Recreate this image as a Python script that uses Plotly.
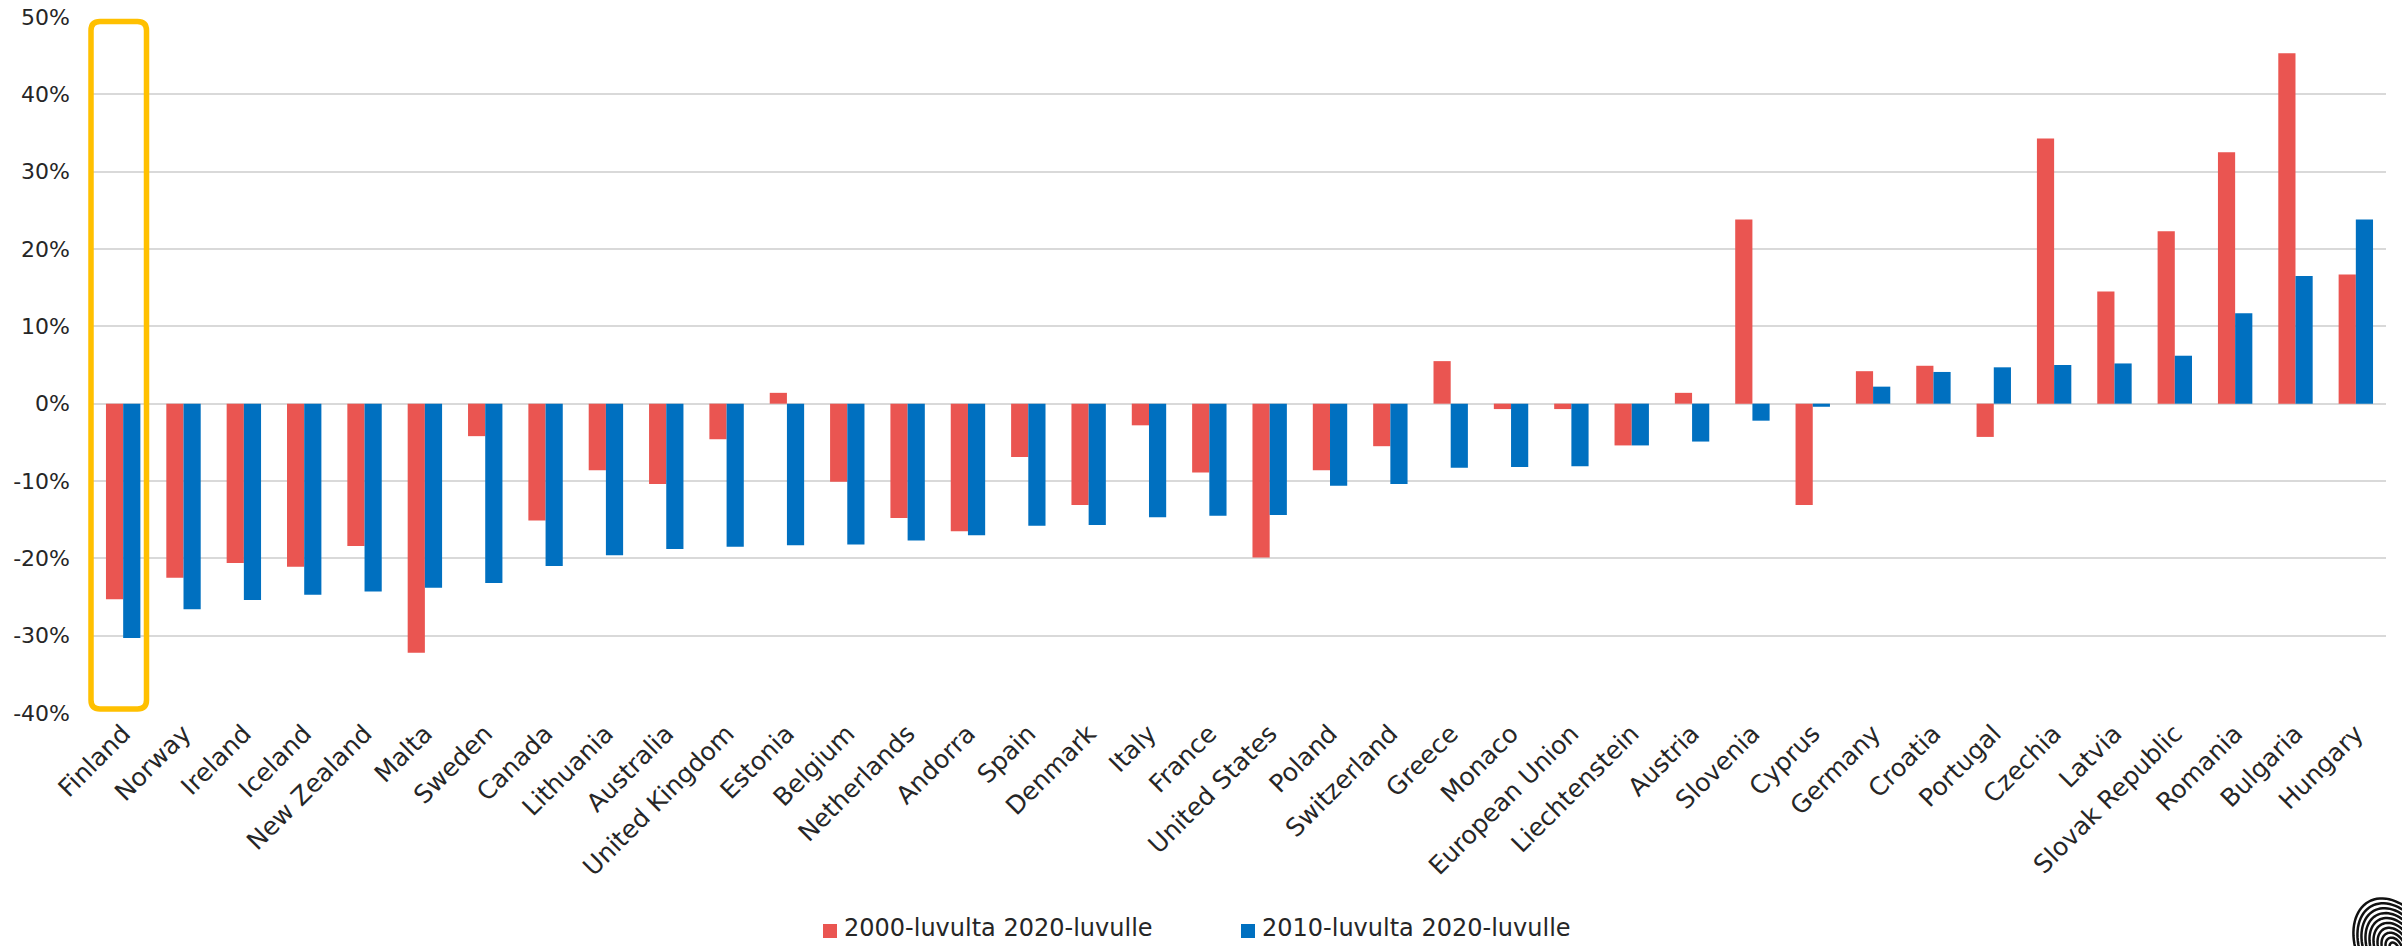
import numpy as np
import plotly.graph_objects as go

countries = ["Finland", "Norway", "Ireland", "Iceland", "New Zealand", "Malta", "Sweden", "Canada",
             "Lithuania", "Australia", "United Kingdom", "Estonia", "Belgium", "Netherlands", "Andorra",
             "Spain", "Denmark", "Italy", "France", "United States", "Poland", "Switzerland", "Greece",
             "Monaco", "European Union", "Liechtenstein", "Austria", "Slovenia", "Cyprus", "Germany",
             "Croatia", "Portugal", "Czechia", "Latvia", "Slovak Republic", "Romania", "Bulgaria", "Hungary"]

change_2000s = [-25.3, -22.5, -20.6, -21.1, -18.4, -32.2, -4.2, -15.1,
                -8.6, -10.4, -4.6, 1.4, -10.1, -14.8, -16.5,
                -6.9, -13.1, -2.8, -8.9, -19.9, -8.6, -5.5, 5.5,
                -0.7, -0.7, -5.4, 1.4, 23.8, -13.1, 4.2,
                4.9, -4.3, 34.3, 14.5, 22.3, 32.5, 45.3, 16.7]

change_2010s = [-30.3, -26.6, -25.4, -24.7, -24.3, -23.8, -23.2, -21.0,
                -19.6, -18.8, -18.5, -18.3, -18.2, -17.7, -17.0,
                -15.8, -15.7, -14.7, -14.5, -14.4, -10.6, -10.4, -8.3,
                -8.2, -8.1, -5.4, -4.9, -2.2, -0.4, 2.2,
                4.1, 4.7, 5.0, 5.2, 6.2, 11.7, 16.5, 23.8]

series_names = ["2000-luvulta 2020-luvulle", "2010-luvulta 2020-luvulle"]
y_ticks = [-40, -30, -20, -10, 0, 10, 20, 30, 40, 50]
y_tick_labels = [f"{v}%" for v in y_ticks]

RED = "#EA5551"
BLUE = "#0070C0"
FONT = "DejaVu Sans"
TXT = "#262626"

W, H = 2402, 946
L, R, T, B = 93, 2386, 17, 713  # plot area in pixels


def px_x(x):
    return (x - L) / (R - L)


def px_y(y):
    return (B - y) / (B - T)


fig = go.Figure()
fig.add_trace(go.Bar(x=countries, y=[v / 100 for v in change_2000s], name=series_names[0],
                     marker=dict(color=RED, line=dict(width=0))))
fig.add_trace(go.Bar(x=countries, y=[v / 100 for v in change_2010s], name=series_names[1],
                     marker=dict(color=BLUE, line=dict(width=0))))

# highlight box (rounded rectangle) around Finland
bx0, bx1, by0, by1, rad = 91, 146.5, 21.5, 709, 9


def rounded_rect(x0, x1, y0, y1, r):
    pts = []
    pts.append(f"M {px_x(x0 + r)},{px_y(y0)}")
    pts.append(f"L {px_x(x1 - r)},{px_y(y0)}")
    pts.append(f"Q {px_x(x1)},{px_y(y0)} {px_x(x1)},{px_y(y0 + r)}")
    pts.append(f"L {px_x(x1)},{px_y(y1 - r)}")
    pts.append(f"Q {px_x(x1)},{px_y(y1)} {px_x(x1 - r)},{px_y(y1)}")
    pts.append(f"L {px_x(x0 + r)},{px_y(y1)}")
    pts.append(f"Q {px_x(x0)},{px_y(y1)} {px_x(x0)},{px_y(y1 - r)}")
    pts.append(f"L {px_x(x0)},{px_y(y0 + r)}")
    pts.append(f"Q {px_x(x0)},{px_y(y0)} {px_x(x0 + r)},{px_y(y0)} Z")
    return " ".join(pts)


shapes = [dict(type="path", xref="paper", yref="paper", path=rounded_rect(bx0, bx1, by0, by1, rad),
               line=dict(color="#FFC000", width=5.5), fillcolor="rgba(0,0,0,0)", layer="above")]

# manual legend (squares + text), placed in pixel positions
legend_items = [(series_names[0], RED, 823), (series_names[1], BLUE, 1241)]
legend_y = 928
annotations = []
for name, col, sx in legend_items:
    shapes.append(dict(type="rect", xref="paper", yref="paper",
                       x0=px_x(sx), x1=px_x(sx + 14), y0=px_y(legend_y + 10), y1=px_y(legend_y - 4),
                       fillcolor=col, line=dict(width=0)))
    annotations.append(dict(text=name, xref="paper", yref="paper", x=px_x(sx + 19), y=px_y(legend_y),
                            xanchor="left", yanchor="middle", showarrow=False,
                            font=dict(size=24, family=FONT, color=TXT)))

# fingerprint logo (decorative) in bottom-right corner
cx, cy, ang = 2394, 948, np.deg2rad(-28)
t = np.linspace(0, 2 * np.pi, 80)
for rx in np.arange(4, 40, 3.6):
    ry = rx * 1.45
    xs = cx + rx * np.cos(t) * np.cos(ang) - ry * np.sin(t) * np.sin(ang)
    ys = cy + rx * np.cos(t) * np.sin(ang) + ry * np.sin(t) * np.cos(ang)
    path = "M " + " L ".join(f"{px_x(a):.5f},{px_y(b):.5f}" for a, b in zip(xs, ys)) + " Z"
    shapes.append(dict(type="path", xref="paper", yref="paper", path=path,
                       line=dict(color="#111111", width=2.5), fillcolor="rgba(0,0,0,0)", layer="above"))

fig.update_layout(
    width=W, height=H, autosize=False,
    margin=dict(l=L, r=W - R, t=T, b=H - B, pad=0),
    paper_bgcolor="white", plot_bgcolor="white",
    barmode="group", bargap=0.43, bargroupgap=0,
    font=dict(family=FONT, color=TXT),
    showlegend=False,
    shapes=shapes,
    annotations=annotations,
)
fig.update_xaxes(type="category", tickangle=-45, tickfont=dict(size=25, family=FONT, color=TXT),
                 showgrid=False, showline=False, ticks="", automargin=False, zeroline=False)
fig.update_yaxes(range=[-0.4, 0.5], tickvals=[v / 100 for v in y_ticks], ticktext=y_tick_labels,
                 tickfont=dict(size=22, family=FONT, color=TXT), showgrid=True, gridcolor="#D9D9D9",
                 gridwidth=1.5, zeroline=False, showline=False, ticks="", automargin=False,
                 ticklabelstandoff=22)

fig.write_html("out.html", config={"displayModeBar": False},
               post_script="document.body.style.margin='0';document.body.style.overflow='hidden';")
